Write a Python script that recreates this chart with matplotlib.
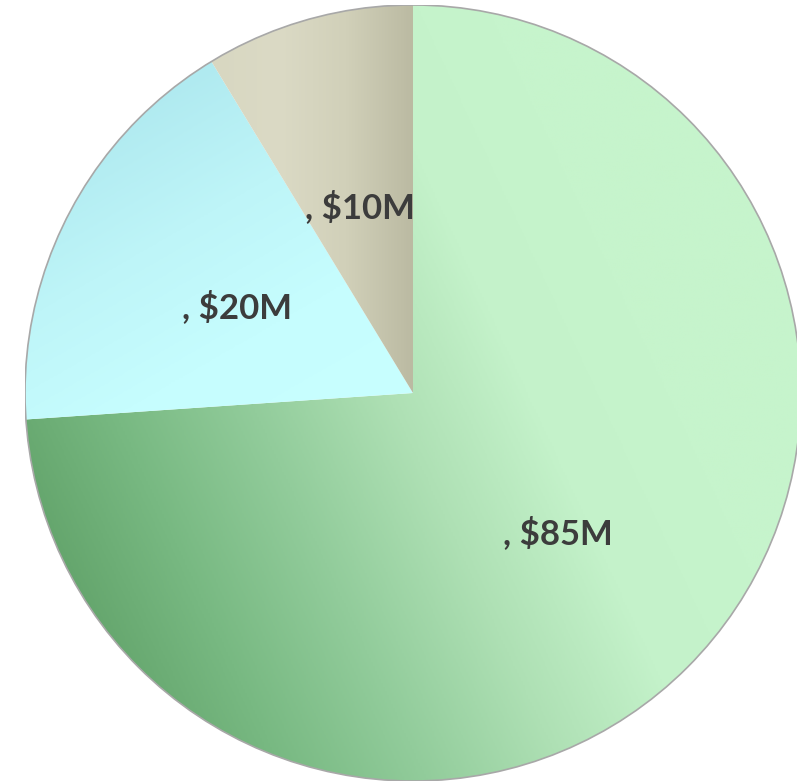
import numpy as np
import matplotlib.pyplot as plt
from matplotlib.colors import LinearSegmentedColormap

# Slice data (clockwise from 12 o'clock)
categories = ["", "", ""]
values = [85, 20, 10]          # $M
value_labels = ["$85M", "$20M", "$10M"]

# gradient colour stops per slice, direction (deg) and range along it
grad_colors = [
    ["#62a36a", "#78b982", "#92cc9b", "#aee0b4", "#c4f2ca", "#c6f4cc"],
    ["#b0eaf0", "#bef5f8", "#c6fdfe", "#c8ffff"],
    ["#bbbaa2", "#d1d0b9", "#dbdac5", "#d8d7c1"],
]
grad_dirs = [25, -60, 180]
grad_ranges = [(-1.05, 0.6), (-1.0, 0.0), (0.0, 0.52)]

fig = plt.figure(figsize=(7.97, 7.82), dpi=100)
ax = fig.add_axes([25 / 797, 1 / 782, 776 / 797, 776 / 782])

labels = [f"{c}, {v}" for c, v in zip(categories, value_labels)]
wedges, texts = ax.pie(values, labels=labels, startangle=90, counterclock=False,
                       radius=1, labeldistance=0.51,
                       wedgeprops=dict(linewidth=0, facecolor="none"),
                       textprops=dict(fontsize=25, color="#3c3c3c", family="Lato",
                                      fontweight="bold", ha="center", va="center"))
for t in texts:
    x, y = t.get_position()
    t.set_position((x, y - 0.012))

# fill each wedge with a linear gradient clipped to its shape
n = 400
xx, yy = np.meshgrid(np.linspace(-1, 1, n), np.linspace(-1, 1, n))
for w, cols, ang, (lo, hi) in zip(wedges, grad_colors, grad_dirs, grad_ranges):
    d = np.deg2rad(ang)
    p = xx * np.cos(d) + yy * np.sin(d)
    p = np.clip((p - lo) / (hi - lo), 0, 1)
    cmap = LinearSegmentedColormap.from_list("g", cols)
    im = ax.imshow(p, cmap=cmap, vmin=0, vmax=1, extent=[-1, 1, -1, 1], origin="lower",
                   interpolation="bilinear", zorder=0)
    im.set_clip_path(w)

# thin outline round the pie
circle = plt.Circle((0, 0), 1, fill=False, edgecolor="#a8a8a8", linewidth=1.2, zorder=3)
ax.add_patch(circle)

ax.set_xlim(-1, 1)
ax.set_ylim(-1, 1)
ax.set_aspect("equal")
ax.axis("off")

fig.savefig("out.png", dpi=100, facecolor="white")
